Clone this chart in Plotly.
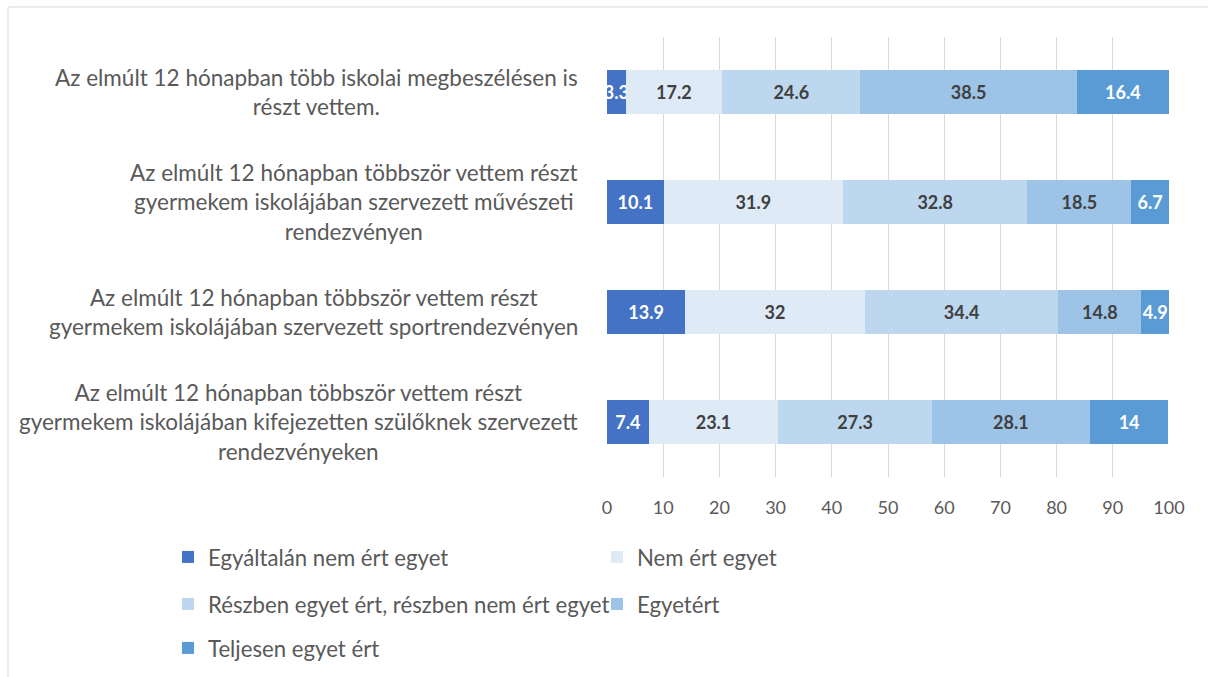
import plotly.graph_objects as go

categories = [
    "Az elmúlt 12 hónapban több iskolai megbeszélésen is<br>részt vettem.",
    "Az elmúlt 12 hónapban többször vettem részt<br>gyermekem iskolájában szervezett művészeti<br>rendezvényen",
    "Az elmúlt 12 hónapban többször vettem részt<br>gyermekem iskolájában szervezett sportrendezvényen",
    "Az elmúlt 12 hónapban többször vettem részt<br>gyermekem iskolájában kifejezetten szülőknek szervezett<br>rendezvényeken",
]
series_names = [
    "Egyáltalán nem ért egyet",
    "Nem ért egyet",
    "Részben egyet ért, részben nem ért egyet",
    "Egyetért",
    "Teljesen egyet ért",
]
egyaltalan_nem = [3.3, 10.1, 13.9, 7.4]
nem_ert = [17.2, 31.9, 32, 23.1]
reszben = [24.6, 32.8, 34.4, 27.3]
egyetert = [38.5, 18.5, 14.8, 28.1]
teljesen = [16.4, 6.7, 4.9, 14]
series_values = [egyaltalan_nem, nem_ert, reszben, egyetert, teljesen]
x_ticks = [0, 10, 20, 30, 40, 50, 60, 70, 80, 90, 100]

colors = ["#4472C4", "#DEEBF7", "#BDD7EE", "#9DC3E6", "#5B9BD5"]
label_colors = ["#FFFFFF", "#404040", "#404040", "#404040", "#FFFFFF"]
legend_ids = ["legend", "legend2", "legend3", "legend4", "legend5"]
# legend entry anchor points (left x, centre y) in pixels
legend_pos = [(168, 557), (597, 557), (168, 604), (597, 604), (168, 648)]

FONT = "Lato"
GREY = "#595959"
W, H = 1208, 677
L, R, T, B = 607, 39, 37, 200
plot_w = W - L - R
plot_h = H - T - B

fig = go.Figure()
for name, vals, col, lc, lg in zip(series_names, series_values, colors, label_colors, legend_ids):
    fig.add_trace(go.Bar(
        y=categories, x=vals, name=name, orientation="h",
        marker=dict(color=col, line=dict(width=0)),
        text=[f"{v:g}" for v in vals], textposition="inside",
        insidetextanchor="middle", textangle=0,
        textfont=dict(family=FONT, size=18, color=lc, weight="bold"),
        legend=lg, hoverinfo="x+name",
    ))

# category labels (centred lines, right edge near the axis)
for cat in categories:
    fig.add_annotation(
        x=(580 - L) / plot_w, xref="paper", y=cat, yref="y",
        text=cat, showarrow=False, xanchor="right", align="center",
        font=dict(family=FONT, size=22.5, color=GREY),
    )

legends = {}
for lg, (px, py) in zip(legend_ids, legend_pos):
    legends[lg] = dict(
        x=px / W, y=1 - py / H, xref="container", yref="container",
        xanchor="left", yanchor="middle", orientation="v",
        font=dict(family=FONT, size=22.2, color=GREY),
        bgcolor="rgba(0,0,0,0)",
    )

fig.update_layout(
    width=W, height=H,
    margin=dict(l=L, r=R, t=T, b=B, autoexpand=False),
    barmode="stack", bargap=0.6,
    plot_bgcolor="white", paper_bgcolor="white",
    font=dict(family=FONT, color=GREY),
    uniformtext=dict(minsize=18, mode="show"),
    xaxis=dict(range=[0, 100], tickvals=x_ticks, showgrid=True, gridcolor="#D9D9D9",
               gridwidth=1, zeroline=False, showline=False,
               tickfont=dict(family=FONT, size=18, color=GREY), ticks="", ticklabelstandoff=18),
    yaxis=dict(categoryorder="array", categoryarray=categories, autorange="reversed",
               showticklabels=False, showgrid=False, zeroline=False, showline=False),
    showlegend=True,
    **legends,
)

# outer chart border
fig.add_shape(type="rect", xref="paper", yref="paper",
              x0=(8 - L) / plot_w, x1=(W + 20 - L) / plot_w,
              y0=(T + plot_h - (H + 20)) / plot_h, y1=(T + plot_h - 7) / plot_h,
              line=dict(color="#D9D9D9", width=1), fillcolor="rgba(0,0,0,0)", layer="below")

fig.write_html("out.html", config={"displayModeBar": False},
               post_script="document.body.style.margin='0';")
